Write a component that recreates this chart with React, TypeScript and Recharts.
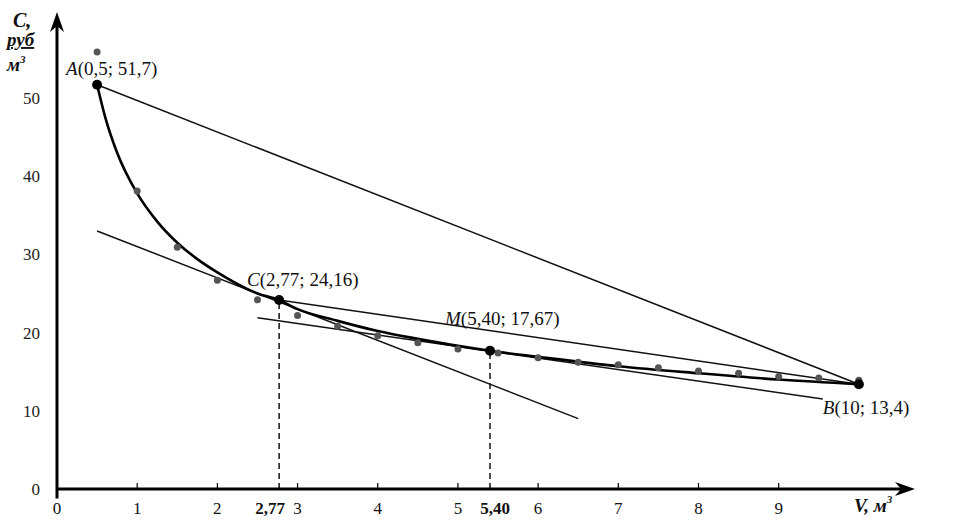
import { ComposedChart, Line, Scatter, XAxis, YAxis, ReferenceLine, ReferenceDot } from 'recharts';

// measured points (gray dots)
const volumes = [0.5, 1, 1.5, 2, 2.5, 3, 3.5, 4, 4.5, 5, 5.5, 6, 6.5, 7, 7.5, 8, 8.5, 9, 9.5, 10];
const costs = [55.9, 38.1, 30.9, 26.7, 24.2, 22.2, 20.8, 19.6, 18.7, 17.9, 17.4, 16.8, 16.2, 15.9, 15.5, 15.1, 14.8, 14.4, 14.2, 13.9];

// fitted curve
const curveV = [0.5, 0.6, 0.75, 1, 1.25, 1.5, 1.75, 2, 2.5, 2.77, 3, 3.5, 4, 4.5, 5, 5.4, 6, 7, 8, 9, 10];
const curveC = [51.7, 47.6, 43.0, 37.8, 34.2, 31.5, 29.4, 27.7, 25.0, 24.16, 23.0, 21.5, 20.2, 19.2, 18.3, 17.67, 16.9, 15.7, 14.8, 14.0, 13.4];

// named points
const keyNames = ['A', 'C', 'M', 'B'];
const keyV = [0.5, 2.77, 5.4, 10];
const keyC = [51.7, 24.16, 17.67, 13.4];
const keyText = ['(0,5; 51,7)', '(2,77; 24,16)', '(5,40; 17,67)', '(10; 13,4)'];

// straight lines: chord AB, secant CB, tangent at C, tangent at M
const segStartV = [0.5, 2.77, 0.5, 2.5];
const segStartC = [51.7, 24.16, 33.0, 21.9];
const segEndV = [10, 10, 6.5, 9.55];
const segEndC = [13.4, 13.4, 9.0, 11.5];

const xTicks = [0, 1, 2, 2.77, 3, 4, 5, 5.4, 6, 7, 8, 9];
const yTicks = [0, 10, 20, 30, 40, 50];

const serif = '"Liberation Serif", "DejaVu Serif", serif';

const pointData = volumes.map((x, i) => ({ x, y: costs[i] }));
const curveData = curveV.map((x, i) => ({ x, y: curveC[i] }));

const labelOffsets: Record<string, [number, number]> = {
  A: [-31, -10],
  C: [-32, -14],
  M: [-45, -26],
  B: [-36, 30],
};

function PointLabel(props: any) {
  const { viewBox, name, text } = props;
  const cx = viewBox.x + viewBox.width / 2;
  const cy = viewBox.y + viewBox.height / 2;
  const [dx, dy] = labelOffsets[name];
  return (
    <text x={cx + dx} y={cy + dy} fontFamily={serif} fontSize={19} fill="#111">
      <tspan fontStyle="italic">{name}</tspan>
      <tspan>{text}</tspan>
    </text>
  );
}

function XTick(props: any) {
  const { x, y, payload } = props;
  const v = payload.value;
  const bold = v === 2.77 || v === 5.4;
  const label = bold ? v.toFixed(2).replace('.', ',') : String(v);
  const shift = v === 2.77 ? -9 : v === 5.4 ? 5 : 0;
  return (
    <g>
      {!bold && v !== 0 && <line x1={x} x2={x} y1={y - 6} y2={y} stroke="#000" strokeWidth={1.2} />}
      <text
        x={x + shift}
        y={y + 25}
        textAnchor="middle"
        fontFamily={serif}
        fontSize={17}
        fontWeight={bold ? 'bold' : 'normal'}
        fill="#111"
      >
        {label}
      </text>
    </g>
  );
}

const arrow = (dir: 'up' | 'right') => (p: any) => {
  const { x1, y1, x2, y2 } = p;
  const head =
    dir === 'right'
      ? `M${x2},${y2} L${x2 - 20},${y2 - 7} L${x2 - 14},${y2} L${x2 - 20},${y2 + 7} Z`
      : `M${x2},${y2} L${x2 - 7},${y2 + 20} L${x2},${y2 + 14} L${x2 + 7},${y2 + 20} Z`;
  return (
    <g>
      <line x1={x1} y1={y1} x2={dir === 'right' ? x2 - 10 : x2} y2={dir === 'up' ? y2 + 10 : y2} stroke="#000" strokeWidth={3} />
      <path d={head} fill="#000" />
    </g>
  );
};

function YTitle(props: any) {
  const { viewBox } = props;
  const x = viewBox.x + 7;
  const y = viewBox.y;
  return (
    <g fontFamily={serif} fontWeight="bold" fontStyle="italic" fill="#111">
      <text x={x + 6} y={y + 15} fontSize={20}>C,</text>
      <text x={x} y={y + 34} fontSize={19} textDecoration="underline">руб</text>
      <text x={x} y={y + 59} fontSize={19}>
        м<tspan dy={-8} fontSize={11}>3</tspan>
      </text>
    </g>
  );
}

function XTitle(props: any) {
  const { viewBox } = props;
  return (
    <text x={viewBox.x + 797} y={viewBox.y + 23} fontFamily={serif} fontWeight="bold" fontStyle="italic" fontSize={19} fill="#111">
      V, м<tspan dy={-9} fontSize={11}>3</tspan>
    </text>
  );
}

export default function App() {
  return (
    <div style={{ position: 'absolute', left: 0, top: 0, width: 975, height: 525, background: '#fff' }}>
      <ComposedChart width={975} height={525} margin={{ top: 12, right: 60, bottom: 0, left: 0 }}>
        <XAxis
          dataKey="x"
          type="number"
          domain={[0, 10.7]}
          ticks={xTicks}
          interval={0}
          allowDataOverflow
          axisLine={false}
          tickLine={false}
          tickSize={0}
          tickMargin={0}
          height={36}
          tick={<XTick />}
          label={{ content: <XTitle /> }}
        />
        <YAxis
          type="number"
          domain={[0, 61]}
          ticks={yTicks}
          interval={0}
          allowDataOverflow
          axisLine={false}
          tickLine={false}
          tickSize={0}
          tickMargin={17}
          width={57}
          tick={{ fontFamily: serif, fontSize: 17, fill: '#222' }}
          label={{ content: <YTitle /> }}
        />
        {segStartV.map((v, i) => (
          <ReferenceLine
            key={'seg' + i}
            segment={[
              { x: v, y: segStartC[i] },
              { x: segEndV[i], y: segEndC[i] },
            ]}
            stroke="#111"
            strokeWidth={1.5}
            ifOverflow="visible"
          />
        ))}
        {[1, 2].map((i) => (
          <ReferenceLine
            key={'drop' + i}
            segment={[
              { x: keyV[i], y: 0 },
              { x: keyV[i], y: keyC[i] },
            ]}
            stroke="#111"
            strokeWidth={1.5}
            strokeDasharray="6 4"
            ifOverflow="visible"
          />
        ))}
        <Line
          data={curveData}
          dataKey="y"
          type="monotone"
          stroke="#000"
          strokeWidth={2.6}
          dot={false}
          activeDot={false}
          isAnimationActive={false}
        />
        <Scatter
          data={pointData}
          dataKey="y"
          isAnimationActive={false}
          shape={(p: any) => <circle cx={p.cx} cy={p.cy} r={3.5} fill="#555" />}
        />
        {keyNames.map((n, i) => (
          <ReferenceDot
            key={n}
            x={keyV[i]}
            y={keyC[i]}
            r={5}
            fill="#000"
            stroke="none"
            ifOverflow="visible"
            label={<PointLabel name={n} text={keyText[i]} />}
          />
        ))}
        <ReferenceLine
          segment={[
            { x: 0, y: 0 },
            { x: 10.7, y: 0 },
          ]}
          ifOverflow="visible"
          shape={arrow('right')}
        />
        <ReferenceLine
          segment={[
            { x: 0, y: -1.2 },
            { x: 0, y: 61 },
          ]}
          ifOverflow="visible"
          shape={arrow('up')}
        />
      </ComposedChart>
    </div>
  );
}
